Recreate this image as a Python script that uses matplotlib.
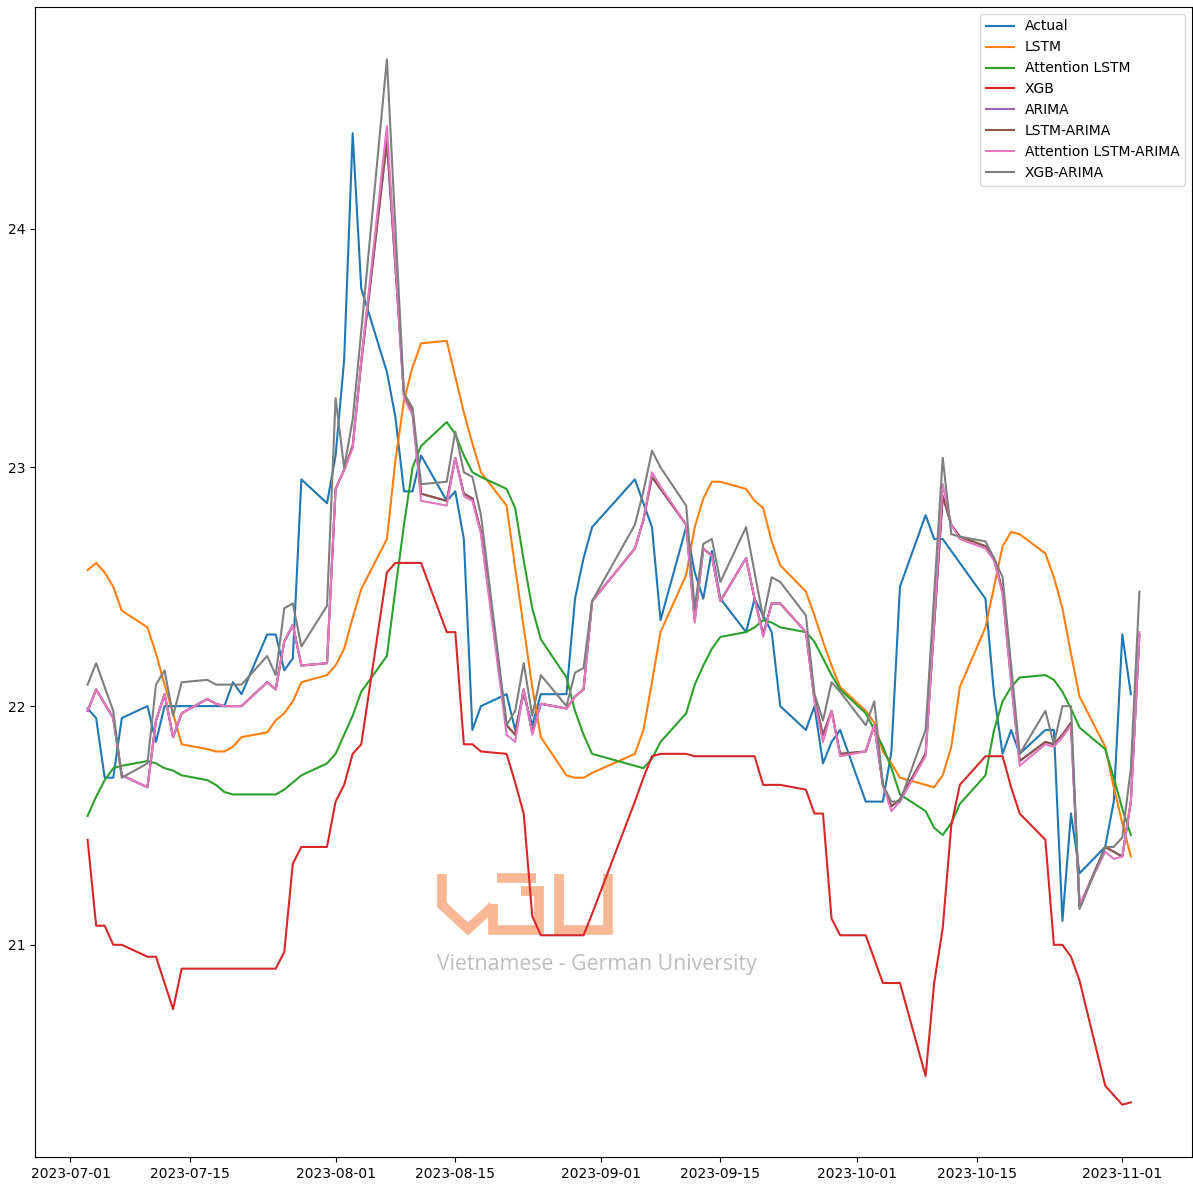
import matplotlib
matplotlib.use("Agg")
import matplotlib.pyplot as plt
from matplotlib.lines import Line2D
import pandas as pd

# trading days (Vietnam National Day holiday removed)
dates = pd.bdate_range("2023-07-03", "2023-11-02")
dates = dates[~dates.isin(pd.to_datetime(["2023-09-01", "2023-09-04"]))]
hybrid_dates = dates.append(pd.DatetimeIndex(["2023-11-03"]))

actual = [
    21.99, 21.95, 21.70, 21.70, 21.95, 22.00, 21.85, 22.00, 22.00, 22.00, 22.00, 22.00, 22.00, 22.10, 22.05, 22.30, 22.30, 22.15, 22.20, 22.95, 22.85,
    23.05, 23.45, 24.40, 23.75, 23.40, 23.21, 22.90, 22.90, 23.05, 22.86, 22.90, 22.70, 21.90, 22.00, 22.05, 21.90, 22.05, 21.92, 22.05, 22.05, 22.45, 22.62, 22.75,
    22.95, 22.85, 22.75, 22.36, 22.75, 22.56, 22.45, 22.65, 22.45, 22.31, 22.45, 22.38, 22.31, 22.00, 21.90, 22.00, 21.76, 21.85, 21.90,
    21.60, 21.60, 21.60, 21.81, 22.50, 22.80, 22.70, 22.70, 22.65, 22.60, 22.45, 22.05, 21.80, 21.90, 21.80, 21.90, 21.90, 21.10, 21.55, 21.30, 21.41, 21.60,
    22.30, 22.05,
]
lstm = [
    22.57, 22.60, 22.56, 22.50, 22.40, 22.33, 22.22, 22.09, 21.97, 21.84, 21.82, 21.81, 21.81, 21.83, 21.87, 21.89, 21.94, 21.97, 22.02, 22.10, 22.13,
    22.17, 22.24, 22.37, 22.49, 22.70, 23.03, 23.28, 23.42, 23.52, 23.53, 23.38, 23.23, 23.10, 22.98, 22.84, 22.58, 22.33, 22.08, 21.87, 21.71, 21.70, 21.70, 21.72,
    21.80, 21.90, 22.10, 22.31, 22.55, 22.75, 22.87, 22.94, 22.94, 22.91, 22.86, 22.83, 22.69, 22.59, 22.48, 22.38, 22.27, 22.17, 22.08,
    21.98, 21.93, 21.81, 21.76, 21.70, 21.67, 21.66, 21.71, 21.83, 22.08, 22.33, 22.50, 22.67, 22.73, 22.72, 22.64, 22.54, 22.41, 22.22, 22.04, 21.83, 21.66,
    21.51, 21.37,
]
att_lstm = [
    21.54, 21.62, 21.69, 21.74, 21.75, 21.77, 21.76, 21.74, 21.73, 21.71, 21.69, 21.67, 21.64, 21.63, 21.63, 21.63, 21.63, 21.65, 21.68, 21.71, 21.76,
    21.80, 21.88, 21.96, 22.06, 22.21, 22.49, 22.76, 23.00, 23.09, 23.19, 23.14, 23.05, 22.98, 22.96, 22.91, 22.83, 22.61, 22.41, 22.28, 22.12, 21.98, 21.88, 21.80,
    21.75, 21.74, 21.78, 21.85, 21.97, 22.09, 22.17, 22.24, 22.29, 22.31, 22.33, 22.36, 22.35, 22.33, 22.31, 22.27, 22.20, 22.13, 22.07,
    21.97, 21.90, 21.83, 21.74, 21.63, 21.56, 21.49, 21.46, 21.51, 21.59, 21.71, 21.90, 22.02, 22.08, 22.12, 22.13, 22.11, 22.06, 21.99, 21.91, 21.82, 21.70,
    21.57, 21.46,
]
xgb = [
    21.44, 21.08, 21.08, 21.00, 21.00, 20.95, 20.95, 20.84, 20.73, 20.90, 20.90, 20.90, 20.90, 20.90, 20.90, 20.90, 20.90, 20.97, 21.34, 21.41, 21.41,
    21.60, 21.67, 21.80, 21.84, 22.56, 22.60, 22.60, 22.60, 22.60, 22.31, 22.31, 21.84, 21.84, 21.81, 21.80, 21.68, 21.55, 21.12, 21.04, 21.04, 21.04, 21.04, 21.13,
    21.60, 21.70, 21.79, 21.80, 21.80, 21.79, 21.79, 21.79, 21.79, 21.79, 21.79, 21.67, 21.67, 21.67, 21.65, 21.55, 21.55, 21.11, 21.04,
    21.04, 20.94, 20.84, 20.84, 20.84, 20.45, 20.84, 21.07, 21.50, 21.67, 21.79, 21.79, 21.79, 21.66, 21.55, 21.44, 21.00, 21.00, 20.95, 20.85, 20.41, 20.37,
    20.33, 20.34,
]
arima = [
    21.98, 22.07, 22.01, 21.95, 21.71, 21.66, 21.94, 22.05, 21.87, 21.97, 22.03, 22.01, 22.00, 22.00, 22.00, 22.10, 22.07, 22.27, 22.34, 22.17, 22.18,
    22.91, 22.99, 23.09, 23.44, 24.36, 23.84, 23.30, 23.23, 22.89, 22.86, 23.04, 22.89, 22.87, 22.73, 21.92, 21.88, 22.07, 21.89, 22.01, 21.99, 22.04, 22.07, 22.44,
    22.66, 22.78, 22.96, 22.91, 22.76, 22.36, 22.66, 22.63, 22.44, 22.62, 22.45, 22.30, 22.43, 22.43, 22.31, 22.03, 21.88, 21.98, 21.80,
    21.81, 21.92, 21.67, 21.58, 21.61, 21.80, 22.34, 22.88, 22.76, 22.71, 22.67, 22.62, 22.48, 22.11, 21.77, 21.85, 21.84, 21.88, 21.93, 21.16, 21.41, 21.39,
    21.37, 21.60, 22.30,
]
lstm_arima = [
    21.98, 22.07, 22.01, 21.95, 21.71, 21.66, 21.94, 22.05, 21.87, 21.97, 22.03, 22.01, 22.00, 22.00, 22.00, 22.10, 22.07, 22.27, 22.34, 22.17, 22.18,
    22.91, 22.99, 23.09, 23.44, 24.37, 23.84, 23.30, 23.23, 22.89, 22.86, 23.04, 22.89, 22.87, 22.73, 21.92, 21.88, 22.07, 21.89, 22.01, 21.99, 22.04, 22.07, 22.44,
    22.66, 22.78, 22.96, 22.91, 22.76, 22.36, 22.66, 22.63, 22.44, 22.62, 22.45, 22.30, 22.43, 22.43, 22.31, 22.03, 21.88, 21.98, 21.80,
    21.81, 21.92, 21.67, 21.58, 21.61, 21.80, 22.34, 22.88, 22.76, 22.71, 22.67, 22.62, 22.48, 22.11, 21.77, 21.85, 21.84, 21.88, 21.93, 21.16, 21.41, 21.39,
    21.37, 21.60, 22.30,
]
att_lstm_arima = [
    21.98, 22.07, 22.01, 21.95, 21.71, 21.66, 21.94, 22.05, 21.87, 21.97, 22.03, 22.01, 22.00, 22.00, 22.00, 22.10, 22.07, 22.27, 22.34, 22.17, 22.18,
    22.91, 22.99, 23.08, 23.45, 24.43, 23.86, 23.29, 23.22, 22.86, 22.84, 23.04, 22.88, 22.86, 22.72, 21.88, 21.85, 22.07, 21.88, 22.01, 21.99, 22.04, 22.07, 22.44,
    22.66, 22.78, 22.98, 22.92, 22.76, 22.35, 22.66, 22.63, 22.44, 22.62, 22.45, 22.29, 22.43, 22.43, 22.31, 22.02, 21.85, 21.98, 21.79,
    21.81, 21.92, 21.67, 21.56, 21.60, 21.79, 22.36, 22.93, 22.76, 22.70, 22.66, 22.61, 22.47, 22.10, 21.75, 21.84, 21.83, 21.87, 21.92, 21.17, 21.39, 21.36,
    21.37, 21.60, 22.31,
]
xgb_arima = [
    22.09, 22.18, 22.08, 21.98, 21.70, 21.76, 22.09, 22.15, 21.96, 22.10, 22.11, 22.09, 22.09, 22.09, 22.09, 22.21, 22.13, 22.41, 22.43, 22.25, 22.42,
    23.29, 23.00, 23.20, 23.57, 24.71, 24.00, 23.31, 23.25, 22.93, 22.94, 23.15, 22.98, 22.96, 22.80, 21.92, 21.98, 22.18, 21.96, 22.13, 22.00, 22.14, 22.16, 22.44,
    22.76, 22.90, 23.07, 23.00, 22.84, 22.41, 22.68, 22.70, 22.52, 22.75, 22.56, 22.37, 22.54, 22.52, 22.38, 22.05, 21.94, 22.10, 22.06,
    21.92, 22.02, 21.67, 21.60, 21.60, 21.90, 22.47, 23.04, 22.72, 22.71, 22.69, 22.62, 22.54, 22.17, 21.80, 21.98, 21.84, 22.00, 22.00, 21.15, 21.41, 21.41,
    21.45, 21.74, 22.48,
]

W, H = 1193, 1184
fig = plt.figure(figsize=(W / 100, H / 100), dpi=100)
ax = fig.add_axes([35 / W, 1 - 1157 / H, (1192 - 35) / W, (1157 - 7) / H])
ax.patch.set_visible(False)

ax.plot(dates, actual, label="Actual")
ax.plot(dates, lstm, label="LSTM")
ax.plot(dates, att_lstm, label="Attention LSTM")
ax.plot(dates, xgb, label="XGB")
ax.plot(hybrid_dates, arima, label="ARIMA")
ax.plot(hybrid_dates, lstm_arima, label="LSTM-ARIMA")
ax.plot(hybrid_dates, att_lstm_arima, label="Attention LSTM-ARIMA")
ax.plot(hybrid_dates, xgb_arima, label="XGB-ARIMA")

ax.set_yticks([21, 22, 23, 24])
ax.legend(loc="upper right")


# watermark behind the axes (pixel coords, y down)
def fp(pts):
    return [p[0] / W for p in pts], [1 - p[1] / H for p in pts]


logo_color = "#f8b896"
strokes = [
    [(442, 874), (442, 905), (468, 929), (493, 906)],
    [(493, 904), (493, 930), (539, 930), (539, 891), (521, 891)],
    [(497, 878), (536, 878)],
    [(559, 874), (559, 930), (608, 930), (608, 874)],
]
for s in strokes:
    xs, ys = fp(s)
    fig.add_artist(Line2D(xs, ys, transform=fig.transFigure, color=logo_color,
                          lw=7, solid_joinstyle="miter", solid_capstyle="butt", zorder=-1))
fig.text(437 / W, 1 - 970 / H, "Vietnamese - German University", color="#bdbdbd",
         fontsize=15.3, family="Open Sans", va="baseline", zorder=-1)

fig.savefig("out.png", dpi=100, facecolor="white")
